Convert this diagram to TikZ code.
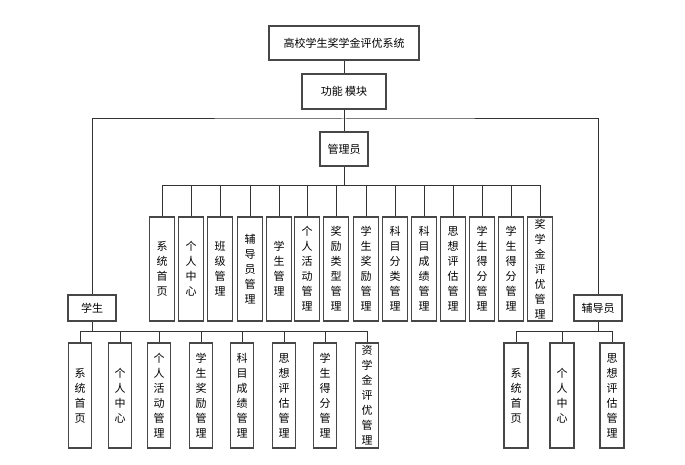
\documentclass[tikz,border=0pt]{standalone}
\usepackage{fontspec}
\setmainfont{Noto Sans CJK SC}
\begin{document}
\begin{tikzpicture}[x=1pt,y=-1pt,
  box/.style={draw=black!72, line width=1.1pt, fill=white, inner sep=0pt,
    font=\fontsize{11}{15}\selectfont, align=center},
  conn/.style={draw=black!80, line width=1pt}]
\useasboundingbox[fill=white] (0,0) rectangle (685,465);
% top level
\node[box, minimum width=150pt, minimum height=34pt] (sys) at (344,43) {高校学生奖学金评优系统};
\node[box, minimum width=84pt, minimum height=35pt] (gn) at (344,91.5) {功能 模块};
\node[box, minimum width=48pt, minimum height=34pt] (gly) at (344,149) {管理员};
\node[box, minimum width=48pt, minimum height=26pt] (xs) at (92,308) {学生};
\node[box, minimum width=48pt, minimum height=26pt] (fdy) at (598,308) {辅导员};
% admin children
\foreach \x/\t [count=\i] in {
  162/{系\\统\\首\\页},
  191/{个\\人\\中\\心},
  220/{班\\级\\管\\理},
  250/{辅\\导\\员\\管\\理},
  279/{学\\生\\管\\理},
  307/{个\\人\\活\\动\\管\\理},
  336/{奖\\励\\类\\型\\管\\理},
  366/{学\\生\\奖\\励\\管\\理},
  395/{科\\目\\分\\类\\管\\理},
  424/{科\\目\\成\\绩\\管\\理},
  453/{思\\想\\评\\估\\管\\理},
  482/{学\\生\\得\\分\\管\\理},
  511/{学\\生\\得\\分\\管\\理},
  540/{奖\\学\\金\\评\\优\\管\\理}}
  \node[box, minimum width=25pt, minimum height=104pt] (a\i) at (\x,269) {\t};
% student children
\foreach \x/\t [count=\i] in {
  80/{系\\统\\首\\页},
  120/{个\\人\\中\\心},
  159/{个\\人\\活\\动\\管\\理},
  201/{学\\生\\奖\\励\\管\\理},
  242/{科\\目\\成\\绩\\管\\理},
  284/{思\\想\\评\\估\\管\\理},
  325/{学\\生\\得\\分\\管\\理},
  367/{资\\学\\金\\评\\优\\管\\理}}
  \node[box, minimum width=23pt, minimum height=105pt] (s\i) at (\x,395.5) {\t};
% counselor children
\foreach \x/\t [count=\i] in {
  516/{系\\统\\首\\页},
  562/{个\\人\\中\\心},
  612/{思\\想\\评\\估\\管\\理}}
  \node[box, minimum width=24pt, minimum height=105pt] (f\i) at (\x,395.5) {\t};
% connectors
\coordinate (hb) at (344,119);
\coordinate (ab) at (344,186);
\coordinate (sb) at (92,331);
\coordinate (fb) at (598,331);
\draw[conn] (sys.south) -- (gn.north);
\draw[conn] (gn.south) -- (gly.north);
\draw[conn] (xs.north) |- (hb) -| (fdy.north);
\draw[conn] (gly.south) -- (ab);
\foreach \i in {1,...,14} \draw[conn] (ab) -| (a\i.north);
\draw[conn] (xs.south) -- (sb);
\foreach \i in {1,...,8} \draw[conn] (sb) -| (s\i.north);
\draw[conn] (fdy.south) -- (fb);
\foreach \i in {1,...,3} \draw[conn] (fb) -| (f\i.north);
\end{tikzpicture}
\end{document}
